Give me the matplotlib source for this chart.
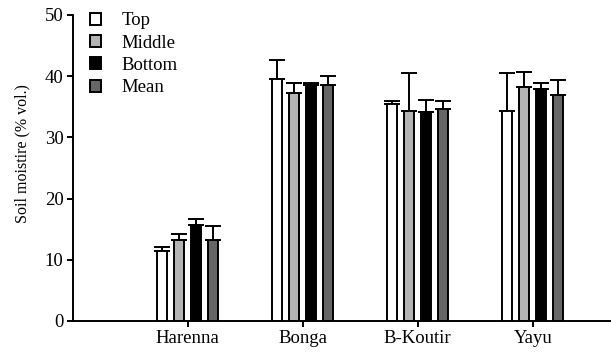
import numpy as np
import matplotlib
matplotlib.use("Agg")
import matplotlib.pyplot as plt

plt.rcParams['font.family'] = ['Liberation Serif', 'DejaVu Serif']

sites = ["Harenna", "Bonga", "B-Koutir", "Yayu"]
layers = ["Top", "Middle", "Bottom", "Mean"]
colors = ["#ffffff", "#b4b4b4", "#000000", "#666666"]

# mean soil moisture per layer and site
top = [11.4, 39.5, 35.4, 34.3]
middle = [13.2, 37.2, 34.3, 38.2]
bottom = [15.7, 38.6, 34.1, 37.9]
mean = [13.3, 38.5, 34.6, 36.9]

# upper error (standard deviation)
top_err = [0.7, 3.1, 0.5, 6.2]
middle_err = [1.0, 1.7, 6.2, 2.5]
bottom_err = [0.9, 0.2, 2.0, 0.9]
mean_err = [2.2, 1.5, 1.3, 2.4]

values = [top, middle, bottom, mean]
errors = [top_err, middle_err, bottom_err, mean_err]

fig = plt.figure(figsize=(6.11, 3.58), dpi=100)
ax = fig.add_axes([0.1187, 0.1034, 0.8813, 0.855])

x = np.arange(1, len(sites) + 1)
width = 0.087
step = 0.148
offsets = (np.arange(4) - 1.5) * step

for vals, errs, off, col, lab in zip(values, errors, offsets, colors, layers):
    ax.bar(x + off, vals, width, color=col, edgecolor='black', linewidth=1.4,
           label=lab, zorder=2)
    ax.errorbar(x + off, vals, yerr=[np.zeros(len(errs)), errs], fmt='none',
                ecolor='black', elinewidth=1.4, capsize=6, capthick=1.4, zorder=1)

ax.set_xlim(0, 4.68)
ax.set_ylim(0, 50)
ax.set_yticks([0, 10, 20, 30, 40, 50])
ax.set_xticks(x)
ax.set_xticklabels(sites)
ax.set_ylabel("Soil moistire (% vol.)", fontsize=11.5)
ax.yaxis.set_label_coords(-0.079, 0.546)

for side in ['top', 'right']:
    ax.spines[side].set_visible(False)
for side in ['left', 'bottom']:
    ax.spines[side].set_linewidth(1.4)
ax.tick_params(axis='both', direction='out', length=4.5, width=1.4, labelsize=13.5, pad=2)

leg = ax.legend(loc='upper left', bbox_to_anchor=(0.0014, 1.063), frameon=False,
                fontsize=13.5, handlelength=0.6, handleheight=0.6,
                labelspacing=0.28, handletextpad=1.09)

fig.savefig("out.png", dpi=100)
